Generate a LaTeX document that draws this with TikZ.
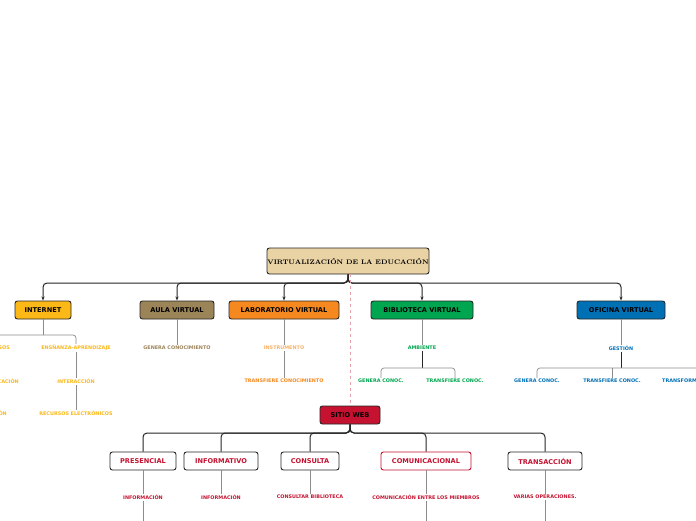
\documentclass[tikz,border=0pt]{standalone}
\usepackage{fontspec}
\setsansfont{DejaVu Sans}
\usepackage{tikz}
\usetikzlibrary{arrows.meta}
\definecolor{rootc}{HTML}{E9D3A5}
\definecolor{netc}{HTML}{FBB817}
\definecolor{aulac}{HTML}{9C8459}
\definecolor{labc}{HTML}{F5891F}
\definecolor{labl}{HTML}{F9B26A}
\definecolor{bibc}{HTML}{00A54F}
\definecolor{ofic}{HTML}{0070B5}
\definecolor{webc}{HTML}{C41230}
\tikzset{
  topic/.style={draw=black!85,line width=0.9pt,rounded corners=2.5pt,minimum height=18pt,inner sep=0pt,font=\sffamily\bfseries\fontsize{6.6}{7}\selectfont},
  sub/.style={font=\sffamily\bfseries\fontsize{4.9}{5}\selectfont,inner sep=1pt},
  link/.style={draw=black!85,line width=1pt,rounded corners=4pt},
  sublink/.style={draw=black!45,line width=0.7pt,rounded corners=3pt}
}
\begin{document}
\begin{tikzpicture}[x=1pt,y=-1pt]
\useasboundingbox[fill=white] (0,0) rectangle (696,520);
\clip (0,0) rectangle (696,520);
% main branch
\node[topic,fill=rootc,minimum width=162pt,minimum height=26pt,font=\rmfamily\bfseries\fontsize{6.6}{8}\selectfont] (root) at (348,261) {VIRTUALIZACIÓN DE LA EDUCACIÓN};
\node[topic,fill=netc,minimum width=56pt] (net) at (43,310) {INTERNET};
\node[topic,fill=aulac,minimum width=74pt] (aula) at (177,310) {AULA VIRTUAL};
\node[topic,fill=labc,minimum width=110pt] (lab) at (284,310) {LABORATORIO VIRTUAL};
\node[topic,fill=bibc,minimum width=102pt] (bib) at (422,310) {BIBLIOTECA VIRTUAL};
\node[topic,fill=ofic,minimum width=88pt] (ofi) at (621,310) {OFICINA VIRTUAL};
\foreach \n in {net,aula,lab,bib,ofi}
  \draw[link,-{Stealth[length=4pt]}] (root.south) |- (\n.north |- 0,283) -- (\n.north);
\node[topic,fill=webc,minimum width=60pt] (web) at (350,415) {SITIO WEB};
\draw[webc!40,dashed,line width=0.6pt] (root.south -| web.north) -- (web.north);
% internet
\node[sub,text=netc,anchor=east] (net1) at (11,348) {RECURSOS};
\node[sub,text=netc] (net2) at (76,348) {ENSÑANZA-APRENDIZAJE};
\node[sub,text=netc,anchor=east] (net3) at (20,381) {COMUNICACIÓN};
\node[sub,text=netc] (net4) at (76,381) {INTERACCIÓN};
\node[sub,text=netc,anchor=east] (net5) at (8,413) {INFORMACIÓN};
\node[sub,text=netc] (net6) at (76,413) {RECURSOS ELECTRÓNICOS};
\draw[sublink] (net.south) -- (43,335);
\draw[sublink] (net1.north) |- (43,335) -| (net2.north);
\draw[sublink] (net2) -- (net4) (net4) -- (net6);
\draw[sublink] (net1) -- (net3) (net3) -- (net5);
% aula, laboratorio
\node[sub,text=aulac] (aula1) at (177,348) {GENERA CONOCIMIENTO};
\draw[sublink] (aula.south) -- (aula1.north);
\node[sub,text=labl] (lab1) at (284,348) {INSTRUMENTO};
\node[sub,text=labc] (lab2) at (284,381) {TRANSFIERE CONOCIMIENTO};
\draw[sublink] (lab.south) -- (lab1.north) (lab1.south) -- (lab2.north);
% biblioteca
\node[sub,text=bibc] (bib1) at (422,348) {AMBIENTE};
\node[sub,text=bibc] (bib2) at (381,381) {GENERA CONOC.};
\node[sub,text=bibc] (bib3) at (455,381) {TRANSFIERE CONOC.};
\draw[sublink] (bib.south) -- (bib1.north);
\draw[link,rounded corners=0pt,line width=0.8pt] (bib1.south) -- (422,368);
\draw[sublink] (bib2.north) |- (422,368) -| (bib3.north);
% oficina
\node[sub,text=ofic] (ofi1) at (621,348) {GESTIÓN};
\node[sub,text=ofic] (ofi2) at (537,381) {GENERA CONOC.};
\node[sub,text=ofic] (ofi3) at (612,381) {TRANSFIERE CONOC.};
\node[sub,text=ofic,anchor=west] (ofi4) at (661,381) {TRANSFORMA};
\draw[sublink] (ofi.south) -- (ofi1.north);
\draw[link,rounded corners=0pt,line width=0.8pt] (ofi1.south) -- (621,368);
\draw[sublink] (ofi2.north) |- (621,368) -- (700,368);
\draw[sublink] (612,368) -- (ofi3.north);
% sitio web
\node[topic,fill=white,text=webc,minimum width=66pt] (w1) at (143,461) {PRESENCIAL};
\node[topic,fill=white,text=webc,minimum width=74pt] (w2) at (221,461) {INFORMATIVO};
\node[topic,fill=white,text=webc,minimum width=58pt] (w3) at (310,461) {CONSULTA};
\node[topic,fill=white,draw=webc,text=webc,minimum width=90pt] (w4) at (426,461) {COMUNICACIONAL};
\node[topic,fill=white,text=webc,minimum width=74pt] (w5) at (545,461) {TRANSACCIÓN};
\foreach \n in {w1,w2,w3,w4,w5}
  \draw[link] (web.south) |- (\n.north |- 0,433) -- (\n.north);
\node[sub,text=webc] (w1a) at (143,497) {INFORMACIÓN};
\node[sub,text=webc] (w2a) at (221,497) {INFORMACIÓN};
\node[sub,text=webc] (w3a) at (310,497) {CONSULTAR BIBLIOTECA};
\node[sub,text=webc] (w4a) at (426,497) {COMUNICACIÓN ENTRE LOS MIEMBROS};
\node[sub,text=webc] (w5a) at (545,497) {VARIAS OPERACIONES.};
\foreach \n in {w1,w2,w3,w4,w5}
  \draw[sublink] (\n.south) -- (\n a.north);
\foreach \n in {w1,w4,w5}
  \draw[sublink] (\n a.south) -- (\n a.south |- 0,525);
\end{tikzpicture}
\end{document}
